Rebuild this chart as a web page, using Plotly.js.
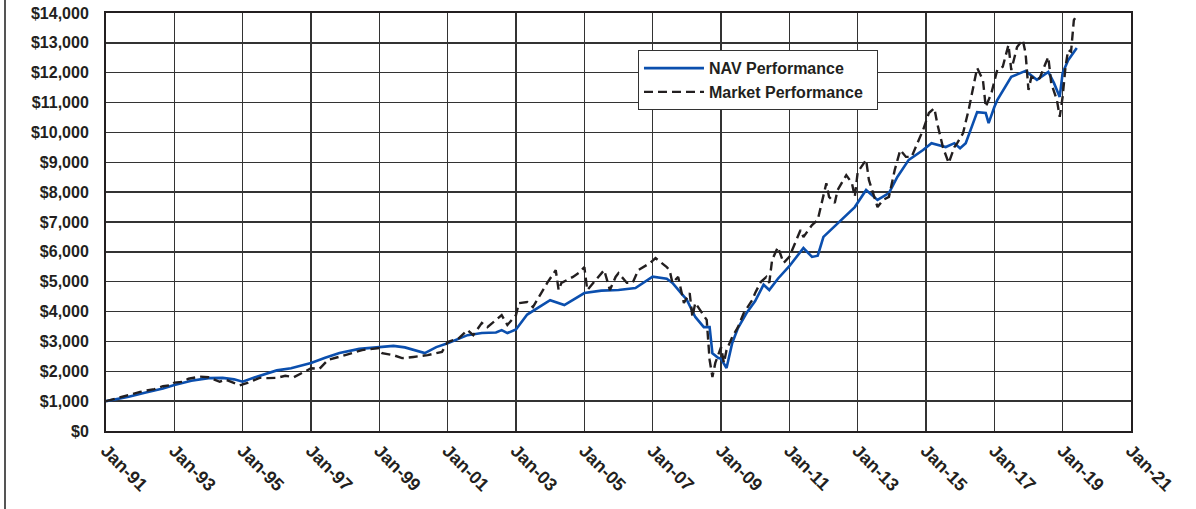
<!DOCTYPE html>
<html>
<head>
<meta charset="utf-8">
<script src="https://cdn.plot.ly/plotly-3.0.1.min.js"></script>
<style>
html,body{margin:0;padding:0;background:#fff;}
#wrap{position:relative;width:1196px;height:509px;}
#leftline{position:absolute;left:4px;top:0;width:2px;height:509px;background:#555;}
#chart{position:absolute;left:0;top:0;width:1196px;height:509px;}
</style>
</head>
<body>
<div id="wrap"><div id="chart"></div><div id="leftline"></div></div>
<script>
// NAV Performance (growth of $1,000)
const navDates = ['1991-01','1991-09','1992-03','1992-09','1993-01','1993-07','1994-01','1994-06','1994-10','1995-01',
 '1995-06','1996-01','1996-06','1997-01','1997-06','1997-11','1998-06','1999-01','1999-06','1999-10','2000-01','2000-05',
 '2000-09','2001-01','2001-08','2002-01','2002-06','2002-08','2002-10','2003-01','2003-05','2003-09','2004-01','2004-06',
 '2005-01','2005-07','2006-01','2006-07','2007-01','2007-06','2007-08','2007-11','2008-01','2008-04','2008-07','2008-09',
 '2008-10','2008-12','2009-01','2009-03','2009-05','2009-07','2009-10','2010-01','2010-04','2010-06','2010-09','2011-01',
 '2011-06','2011-09','2011-11','2012-01','2012-06','2012-12','2013-04','2013-08','2013-12','2014-03','2014-07','2014-12',
 '2015-03','2015-08','2015-11','2016-01','2016-03','2016-07','2016-10','2016-11','2017-01','2017-02','2017-07','2017-12',
 '2018-04','2018-08','2018-10','2018-12','2019-01','2019-03','2019-06'];
const navValues = [1000,1150,1290,1420,1540,1680,1770,1780,1730,1650,
 1820,2030,2100,2280,2450,2610,2750,2810,2850,2800,2720,2610,
 2810,2940,3210,3280,3300,3380,3280,3400,3900,4150,4380,4220,
 4620,4700,4720,4790,5170,5100,4960,4620,4400,3820,3480,3480,
 2600,2450,2420,2110,2950,3450,3950,4350,4900,4720,5100,5520,
 6130,5830,5870,6500,6960,7500,8070,7740,7970,8510,9080,9410,
 9640,9510,9640,9470,9640,10680,10650,10310,10850,11080,11860,12060,
 11760,12030,11650,11190,11990,12420,12830];

// Market Performance (growth of $1,000)
const mktDates = ['1991-01','1991-05','1991-09','1992-01','1992-03','1992-06','1992-09','1992-12','1993-01','1993-04','1993-06','1993-10','1994-01','1994-05','1994-07',
 '1994-10','1994-12','1995-03','1995-07','1995-10','1996-01','1996-04','1996-07','1996-10','1997-01','1997-04','1997-07',
 '1998-01','1998-07','1999-01','1999-02','1999-06','1999-09','2000-01','2000-06','2000-11','2001-01','2001-05','2001-08',
 '2001-10','2002-01','2002-03','2002-08','2002-10','2003-01','2003-02','2003-05','2003-07','2003-12','2004-03','2004-04',
 '2004-05','2004-09','2004-11','2005-01','2005-02','2005-06','2005-08','2005-10','2005-12','2006-01','2006-04','2006-06',
 '2006-08','2006-12','2007-02','2007-06','2007-07','2007-08','2007-10','2007-12','2008-02','2008-03','2008-04','2008-08',
 '2008-09','2008-10','2008-11','2009-01','2009-02','2009-03','2009-05','2009-07','2009-09','2009-12','2010-01','2010-03',
 '2010-05','2010-06','2010-07','2010-09','2010-11','2011-01','2011-03','2011-05','2011-06','2011-09','2011-11','2012-02',
 '2012-03','2012-05','2012-06','2012-09','2012-11','2012-12','2013-01','2013-04','2013-05','2013-08','2013-10','2013-12',
 '2014-02','2014-04','2014-06','2014-08','2014-10','2014-12','2015-02','2015-04','2015-05','2015-07','2015-09','2015-11',
 '2015-12','2016-02','2016-04','2016-06','2016-07','2016-09','2016-10','2016-12','2017-02','2017-04','2017-05','2017-06',
 '2017-07','2017-08','2017-09','2017-11','2017-12','2018-01','2018-02','2018-04','2018-05','2018-07','2018-08','2018-09',
 '2018-11','2018-12','2019-01','2019-02','2019-03','2019-04','2019-05','2019-06'];
const mktValues = [1000,1110,1200,1310,1350,1400,1500,1540,1620,1650,1750,1820,1800,1650,1720,
 1620,1530,1620,1780,1770,1780,1850,1800,1950,2100,2080,2380,
 2540,2710,2780,2610,2540,2440,2480,2540,2650,2980,3110,3380,
 3210,3620,3480,3880,3550,3880,4280,4320,4150,4960,5390,4720,
 4960,5160,5290,5490,4720,5160,5390,4720,5160,5290,4960,4960,
 5390,5620,5790,5490,5390,4960,5160,4290,4620,3820,4290,3720,
 2380,1810,2280,2810,2280,2710,3150,3480,3950,4390,4620,4990,
 5160,4960,5730,6160,5630,5830,6290,6730,6500,6900,7070,8300,
 7840,7640,8070,8570,8300,7840,8670,9080,8410,7500,7740,7840,
 8740,9410,9180,9180,9640,10080,10650,10810,10310,9510,8970,9510,
 9640,9970,10750,11760,12160,11760,10850,11320,12090,12200,12530,12930,
 12090,12530,12860,13100,12650,11420,11860,11760,11820,12300,12530,11650,
 11080,10520,11190,12200,12760,12700,13760,13930];

const baseFont = {family: 'Liberation Sans, Arial, Helvetica, sans-serif', color: '#231f20', weight: 'bold'};

const traces = [
  {x: navDates, y: navValues, type: 'scatter', mode: 'lines', name: 'NAV Performance',
   line: {color: '#0b4fae', width: 2.6}},
  {x: mktDates, y: mktValues, type: 'scatter', mode: 'lines', name: 'Market Performance\u00a0\u00a0',
   line: {color: '#231f20', width: 2.4, dash: '9px,5px'}}
];

const layout = {
  width: 1196, height: 509,
  margin: {l: 106, r: 65, t: 13, b: 78},
  paper_bgcolor: '#fff', plot_bgcolor: '#fff',
  showlegend: true,
  legend: {x: 0.519, y: 0.911, xanchor: 'left', yanchor: 'top',
    bgcolor: '#fff', bordercolor: '#333', borderwidth: 1,
    font: Object.assign({}, baseFont, {size: 16}), itemwidth: 60, tracegroupgap: 0},
  xaxis: {type: 'date', range: ['1991-01-01', '2021-01-01'],
    tick0: '1991-01-01', dtick: 'M24', tickformat: '%b-%y', tickangle: 45,
    showgrid: true, gridcolor: '#333', gridwidth: 1.5,
    showline: true, linecolor: '#231f20', linewidth: 2, mirror: true,
    ticks: '', zeroline: false,
    tickfont: Object.assign({}, baseFont, {size: 18})},
  yaxis: {range: [0, 14000], dtick: 1000, tick0: 0,
    tickprefix: '$', tickformat: ',d',
    showgrid: true, gridcolor: '#333', gridwidth: 1.5,
    showline: true, linecolor: '#231f20', linewidth: 2, mirror: true,
    ticks: '', zeroline: false, ticklabelstandoff: 12,
    tickfont: Object.assign({}, baseFont, {size: 16})}
};

Plotly.newPlot('chart', traces, layout, {displayModeBar: false, staticPlot: true});
</script>
</body>
</html>
